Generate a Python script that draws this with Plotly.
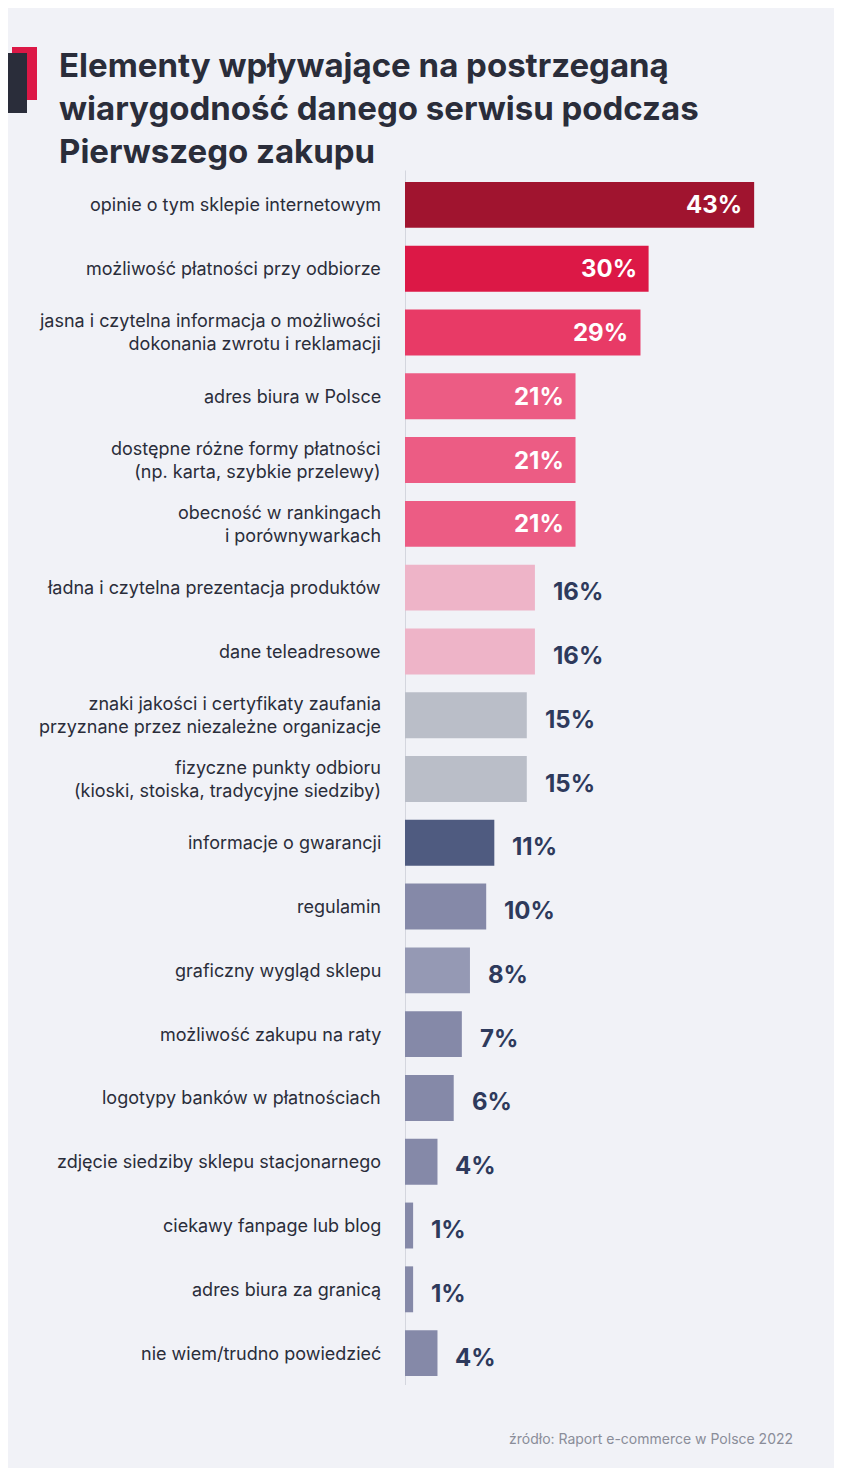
import plotly.graph_objects as go

# dane
kategorie = [
    "opinie o tym sklepie internetowym",
    "możliwość płatności przy odbiorze",
    "jasna i czytelna informacja o możliwości<br>dokonania zwrotu i reklamacji",
    "adres biura w Polsce",
    "dostępne różne formy płatności<br>(np. karta, szybkie przelewy)",
    "obecność w rankingach<br>i porównywarkach",
    "ładna i czytelna prezentacja produktów",
    "dane teleadresowe",
    "znaki jakości i certyfikaty zaufania<br>przyznane przez niezależne organizacje",
    "fizyczne punkty odbioru<br>(kioski, stoiska, tradycyjne siedziby)",
    "informacje o gwarancji",
    "regulamin",
    "graficzny wygląd sklepu",
    "możliwość zakupu na raty",
    "logotypy banków w płatnościach",
    "zdjęcie siedziby sklepu stacjonarnego",
    "ciekawy fanpage lub blog",
    "adres biura za granicą",
    "nie wiem/trudno powiedzieć",
]
wartosci = [43, 30, 29, 21, 21, 21, 16, 16, 15, 15, 11, 10, 8, 7, 6, 4, 1, 1, 4]
kolory = ["#a0142f", "#dc1846", "#e83a66", "#ec5c84", "#ec5c84", "#ec5c84",
          "#eeb4c8", "#eeb4c8", "#babec8", "#babec8", "#4f5b80", "#8589a8",
          "#9599b4", "#8589a8", "#8589a8", "#8589a8", "#8589a8", "#8589a8", "#8589a8"]

TLO = "#f1f2f7"
CIEMNY = "#2e3a5c"
FONT = "Inter"

fig = go.Figure(go.Bar(
    x=wartosci, y=list(range(len(wartosci))), orientation="h",
    marker=dict(color=kolory, line=dict(width=0)), width=0.72,
    hoverinfo="skip",
))

adn = []
for i, (k, v) in enumerate(zip(kategorie, wartosci)):
    adn.append(dict(x=0, y=i, xref="x", yref="y", text=k, showarrow=False,
                    xanchor="right", xshift=-22, align="right",
                    font=dict(family=FONT, size=18, color="#2a2d3a")))
    if i < 6:
        adn.append(dict(x=v, y=i, xref="x", yref="y", text=f"<b>{v}%</b>", showarrow=False,
                        xanchor="right", xshift=-10,
                        font=dict(family=FONT, size=24, color="white")))
    else:
        adn.append(dict(x=v, y=i, xref="x", yref="y", text=f"<b>{v}%</b>", showarrow=False,
                        xanchor="left", xshift=16, yshift=-4,
                        font=dict(family=FONT, size=24, color=CIEMNY)))

# strona ma 8px marginesu, wiec wszystko przesuniete o 8px
fig.update_layout(
    width=826, height=1460,
    paper_bgcolor=TLO, plot_bgcolor=TLO,
    margin=dict(l=397, r=0, t=165, b=83),
    showlegend=False,
    xaxis=dict(range=[0, 429 / 8.12], visible=False, fixedrange=True),
    yaxis=dict(range=[len(wartosci) - 0.5, -0.5], visible=False, fixedrange=True),
    annotations=adn + [
        dict(x=-348 / 429, y=1 + 130 / 1212, xref="paper", yref="paper", showarrow=False,
             xanchor="left", yanchor="top", align="left",
             text="<b>Elementy wpływające na postrzeganą<br>wiarygodność danego serwisu podczas<br>Pierwszego zakupu</b>",
             font=dict(family=FONT, size=33, color="#2a2d3a")),
        dict(x=390 / 429, y=-53 / 1212, xref="paper", yref="paper", showarrow=False,
             xanchor="right", yanchor="middle",
             text="źródło: Raport e-commerce w Polsce 2022",
             font=dict(family=FONT, size=14, color="#8a8d99")),
    ],
    shapes=[
        dict(type="line", xref="x", yref="paper", x0=0, x1=0, y0=0, y1=1.002,
             line=dict(color="#d4d6de", width=2), layer="below"),
        dict(type="rect", xref="paper", yref="paper", x0=-393 / 429, x1=-368 / 429,
             y0=1 + 73 / 1212, y1=1 + 126 / 1212, fillcolor="#dc1846", line=dict(width=0)),
        dict(type="rect", xref="paper", yref="paper", x0=-405 / 429, x1=-378 / 429,
             y0=1 + 60 / 1212, y1=1 + 120 / 1212, fillcolor="#2a2d3a", line=dict(width=0)),
    ],
)

fig.write_html("out.html")
